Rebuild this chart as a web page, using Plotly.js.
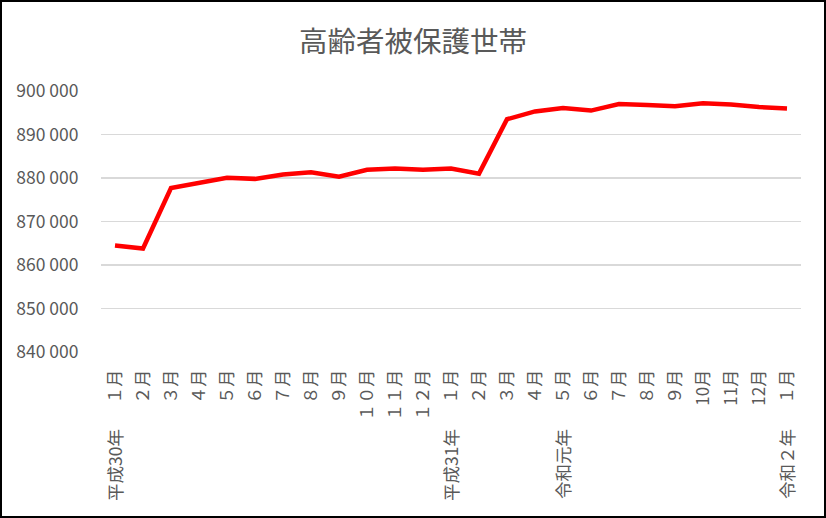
<!DOCTYPE html>
<html>
<head>
<meta charset="utf-8">
<script src="https://cdn.plot.ly/plotly-3.0.1.min.js"></script>
<style>
  html, body { margin: 0; padding: 0; background: #fff; }
  #chart { width: 822px; height: 514px; border: 2px solid #000; }
</style>
</head>
<body>
<div id="chart"></div>
<script>
// Period keys (unique categories)
const periods = [
  "H30.01","H30.02","H30.03","H30.04","H30.05","H30.06","H30.07","H30.08","H30.09","H30.10","H30.11","H30.12",
  "H31.01","H31.02","H31.03","H31.04","R01.05","R01.06","R01.07","R01.08","R01.09","R01.10","R01.11","R01.12",
  "R02.01"
];
// Month tick labels
const monthLabels = [
  "１月","２月","３月","４月","５月","６月","７月","８月","９月","１０月","１１月","１２月",
  "１月","２月","３月","４月","５月","６月","７月","８月","９月","10月","11月","12月",
  "１月"
];
// Household counts
const households = [
  864500, 863800, 877700, 878900, 880050, 879800, 880800, 881300, 880300, 881900, 882200, 881900,
  882200, 881000, 893500, 895300, 896100, 895500, 897000, 896800, 896500, 897200, 896900, 896300,
  896000
];
// Era/year group labels
const yearLabels = ["平成30年", "平成31年", "令和元年", "令和２年"];
const yearLabelPeriods = ["H30.01", "H31.01", "R01.05", "R02.01"];

const font = "'Noto Sans CJK JP', 'Noto Sans', sans-serif";
const grey = "#595959";

const trace = {
  type: "scatter",
  mode: "lines",
  x: periods,
  y: households,
  line: { color: "#FF0000", width: 4.5 },
  hoverinfo: "x+y"
};

const layout = {
  width: 822,
  height: 514,
  margin: { l: 99, r: 23, t: 89, b: 164 },
  paper_bgcolor: "#fff",
  plot_bgcolor: "#fff",
  showlegend: false,
  font: { family: font, color: grey },
  title: {
    text: "高齢者被保護世帯",
    font: { family: font, size: 28.5, color: grey },
    x: 0.5, xanchor: "center",
    y: 0.922, yanchor: "middle", yref: "container"
  },
  xaxis: {
    type: "category",
    categoryorder: "array",
    categoryarray: periods,
    tickmode: "array",
    tickvals: periods,
    ticktext: monthLabels,
    tickangle: -90,
    tickfont: { family: font, size: 17, color: grey },
    ticks: "outside",
    ticklen: 10,
    tickcolor: "rgba(0,0,0,0)",
    showgrid: false,
    showline: false,
    zeroline: false,
    range: [-0.5, periods.length - 0.5],
    fixedrange: true
  },
  yaxis: {
    range: [840000, 900000],
    tickmode: "linear",
    tick0: 840000,
    dtick: 10000,
    tickformat: ",d",
    tickfont: { family: font, size: 17.5, color: grey },
    ticks: "outside",
    ticklen: 18,
    tickcolor: "rgba(0,0,0,0)",
    showgrid: true,
    gridcolor: "#D9D9D9",
    gridwidth: 1.6,
    zeroline: false,
    showline: false,
    fixedrange: true
  },
  separators: ". ",
  annotations: yearLabels.map((t, i) => ({
    text: t,
    x: yearLabelPeriods[i],
    xref: "x",
    y: -0.287,
    yref: "paper",
    xanchor: "center",
    yanchor: "top",
    textangle: -90,
    showarrow: false,
    font: { family: font, size: 17.5, color: grey }
  }))
};

Plotly.newPlot("chart", [trace], layout, { displayModeBar: false, staticPlot: true });
</script>
</body>
</html>
